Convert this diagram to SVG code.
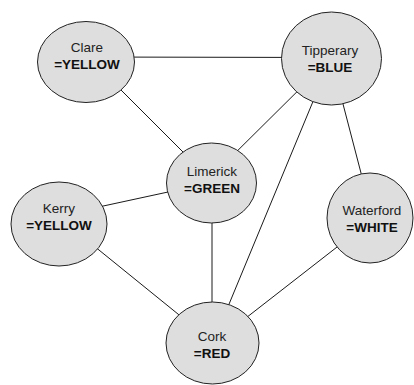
<svg xmlns="http://www.w3.org/2000/svg" width="414" height="385" viewBox="0 0 414 385">
  <style>
    .edge { stroke: #1a1a1a; stroke-width: 1; fill: none; }
    .node ellipse { fill: #dedede; stroke: #222; stroke-width: 1; }
    .name { font-family: "Liberation Sans", Arial, sans-serif; font-size: 13.5px; fill: #222; text-anchor: middle; }
    .colour { font-family: "Liberation Sans", Arial, sans-serif; font-size: 13.5px; font-weight: bold; fill: #111; text-anchor: middle; }
  </style>
  <rect width="414" height="385" fill="#ffffff"/>

  <!-- adjacency between counties -->
  <g id="connectors">
    <line class="edge" x1="88" y1="57" x2="331" y2="57.5"/>
    <line class="edge" x1="88" y1="57" x2="212" y2="181"/>
    <line class="edge" x1="331" y1="58" x2="212" y2="176"/>
    <line class="edge" x1="331" y1="58" x2="212.5" y2="344"/>
    <line class="edge" x1="331" y1="58" x2="373" y2="219"/>
    <line class="edge" x1="57" y1="216" x2="212" y2="182.5"/>
    <line class="edge" x1="57" y1="216" x2="212.5" y2="342"/>
    <line class="edge" x1="212" y1="180" x2="212" y2="344"/>
    <line class="edge" x1="373" y1="219" x2="212.5" y2="344"/>
  </g>

  <g id="clare" class="node">
    <ellipse cx="86" cy="62" rx="48.5" ry="40.5"/>
    <text class="name" x="87" y="52">Clare</text>
    <text class="colour" x="87" y="69">=YELLOW</text>
  </g>

  <g id="tipperary" class="node">
    <ellipse cx="331.5" cy="58.5" rx="50" ry="46.5"/>
    <text class="name" x="330" y="55">Tipperary</text>
    <text class="colour" x="330" y="72">=BLUE</text>
  </g>

  <g id="limerick" class="node">
    <ellipse cx="211.5" cy="183" rx="45" ry="40"/>
    <text class="name" x="212" y="176">Limerick</text>
    <text class="colour" x="212" y="193">=GREEN</text>
  </g>

  <g id="kerry" class="node">
    <ellipse cx="59" cy="224" rx="48" ry="42"/>
    <text class="name" x="59" y="213">Kerry</text>
    <text class="colour" x="59" y="230">=YELLOW</text>
  </g>

  <g id="waterford" class="node">
    <ellipse cx="370" cy="218" rx="43" ry="45"/>
    <text class="name" x="372" y="215">Waterford</text>
    <text class="colour" x="372" y="232">=WHITE</text>
  </g>

  <g id="cork" class="node">
    <ellipse cx="212.5" cy="343" rx="46.5" ry="41"/>
    <text class="name" x="212" y="341">Cork</text>
    <text class="colour" x="212" y="358">=RED</text>
  </g>
</svg>
